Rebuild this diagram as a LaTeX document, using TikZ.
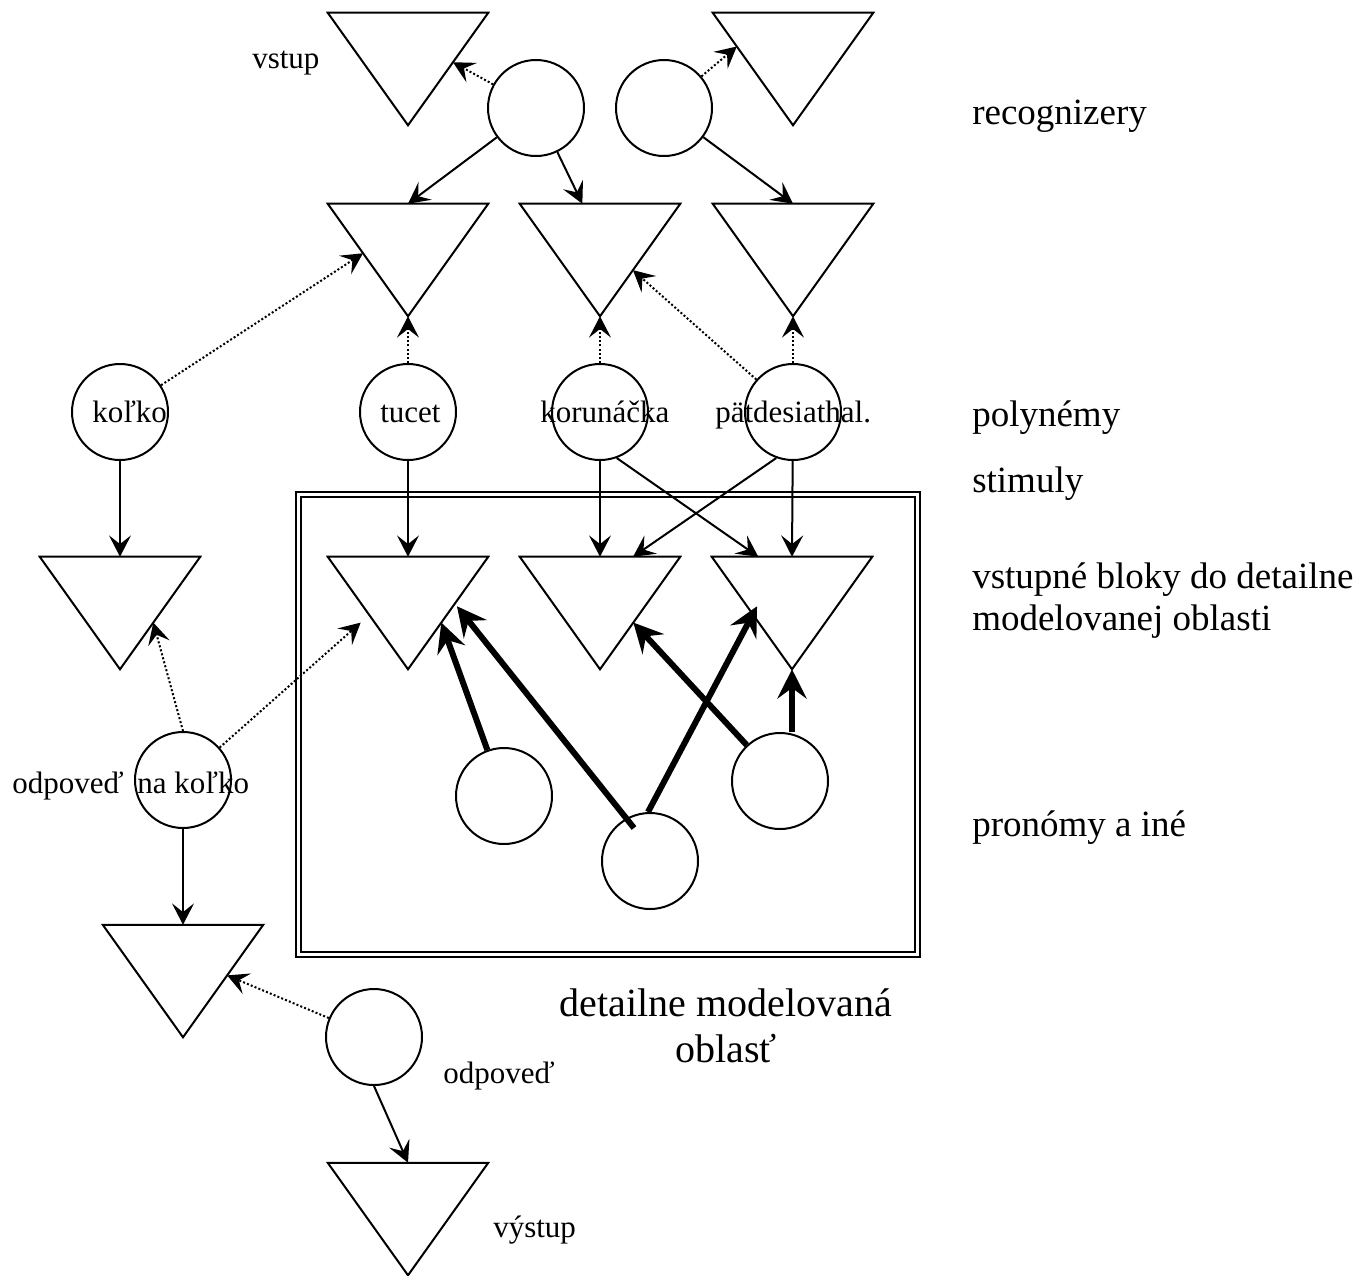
\documentclass[tikz,border=0pt]{standalone}
\usepackage{fontspec}
\setmainfont{Liberation Serif}
\usetikzlibrary{arrows.meta,calc}
\begin{document}
\begin{tikzpicture}[x=0.75pt,y=-0.75pt,
  circ/.style={circle, draw, line width=1.5pt, minimum size=72pt, inner sep=0pt},
  tri/.style={rectangle, minimum width=120pt, minimum height=84pt, inner sep=0pt},
  conn/.style={line width=1.5pt, -{Stealth[length=16pt,width=16.5pt,inset=6.5pt]}},
  dotconn/.style={conn, dash pattern=on 1.5pt off 1.6pt},
  thickarr/.style={line width=4.5pt, -{Stealth[length=22pt,width=22pt,inset=8pt]}},
  small/.style={font=\fontsize{23.25}{27}\selectfont, inner sep=0pt},
  big/.style={font=\fontsize{27.75}{31}\selectfont, inner sep=0pt},
  huge/.style={font=\fontsize{30}{34}\selectfont, inner sep=0pt}]
\useasboundingbox (0,0) rectangle (1362,1275);

% frame of the detailed region
\node[draw, line width=1.4pt, double=white, double distance=2.8pt, minimum width=464.25pt, minimum height=345pt, inner sep=0pt] (box) at (608,724.5) {};

% triangles (invisible boxes, drawn below)
\node[tri] (Tin) at (408,69) {};
\node[tri] (Trr) at (793,69) {};
\node[tri] (T1) at (408,260) {};
\node[tri] (T2) at (600,260) {};
\node[tri] (T3) at (793,260) {};
\node[tri] (Tl) at (120,613) {};
\node[tri] (T4) at (408,613) {};
\node[tri] (T5) at (600,613) {};
\node[tri] (T6) at (792,613) {};
\node[tri] (Tb) at (183,981) {};
\node[tri] (Tout) at (408,1219) {};
\foreach \t in {Tin,Trr,T1,T2,T3,Tl,T4,T5,T6,Tb,Tout}
  \draw[line width=1.5pt] (\t.north west) -- (\t.north east) -- (\t.south) -- cycle;

% circles
\node[circ] (C1) at (536,108) {};
\node[circ] (C2) at (664,108) {};
\node[circ] (kolko) at (120,412) {};
\node[circ] (tucet) at (408,412) {};
\node[circ] (koruna) at (600,412) {};
\node[circ] (patd) at (793,412) {};
\node[circ] (onk) at (183,780) {};
\node[circ] (odp) at (374,1037) {};
\node[circ] (P1) at (504,796) {};
\node[circ] (P2) at (650,861) {};
\node[circ] (P3) at (780,781) {};

% labels in circles
\node[small, anchor=base west] (kolkoL) at (92,422) {koľko};
\node[small, anchor=base west] (tucetL) at (380,422) {tucet};
\node[small, anchor=base west] (korunaL) at (540,422) {korunáčka};
\node[small, anchor=base west] (patdL) at (715,422) {pätdesiathal.};

% other labels
\node[small, anchor=base west] (vstupL) at (252,68) {vstup};
\node[small, anchor=base west] (onkL) at (12,793) {odpoveď\hspace{0.45em}na koľko};
\node[small, anchor=base west] (odpL) at (443,1083) {odpoveď};
\node[small, anchor=base west] (vystupL) at (493,1237) {výstup};

\node[big, anchor=base west] (recL) at (972,124) {recognizery};
\node[big, anchor=base west] (polyL) at (972,426) {polynémy};
\node[big, anchor=base west] (stimL) at (972,492) {stimuly};
\node[big, anchor=base west, align=left] (vstbL) at (972,630) {vstupné bloky do detailne\\modelovanej oblasti};
\node[big, anchor=base west] (pronL) at (972,836) {pronómy a iné};
\node[huge, anchor=base, align=center] (detL) at (726,1062) {detailne modelovaná\\oblasť};

% recognizer connections
\draw[dotconn] (C1) -- ($(Tin.north east)!0.44!(Tin.south)$);
\draw[dotconn] (C2) -- ($(Trr.north west)!0.3!(Trr.south)$);
\draw[conn] (C1) -- (T1.north);
\draw[conn] (C1) -- ($(T2.north west)!0.39!(T2.north east)$);
\draw[conn] (C2) -- (T3.north);

% polyneme dotted connections
\draw[dotconn] (kolko) -- ($(T1.north west)!0.44!(T1.south)$);
\draw[dotconn] (tucet) -- (T1.south);
\draw[dotconn] (koruna) -- (T2.south);
\draw[dotconn] (patd) -- (T3.south);
\draw[dotconn] (patd) -- ($(T2.north east)!0.59!(T2.south)$);

% stimuli
\draw[conn] (kolko) -- (Tl.north);
\draw[conn] (tucet) -- (T4.north);
\draw[conn] (koruna) -- (T5.north);
\draw[conn] (koruna.-70) -- ($(T6.north west)!0.29!(T6.north east)$);
\draw[conn] (patd.-110) -- ($(T5.north west)!0.706!(T5.north east)$);
\draw[conn] (patd) -- (T6.north);

% answer part
\draw[dotconn] (onk.north) -- ($(Tl.north east)!0.585!(Tl.south)$);
\draw[dotconn] (onk) -- ($(T4.north west)!0.585!(T4.south)+(-14,0)$);
\draw[conn] (onk) -- (Tb.north);
\draw[dotconn] (odp) -- ($(Tb.north east)!0.45!(Tb.south)$);
\draw[conn] (odp.south) -- (Tout.north);

% pronomes (thick)
\draw[thickarr] (P1) -- ($(T4.north east)!0.585!(T4.south)$);
\draw[thickarr] ($(P2)+(-16,-33)$) -- ($(T4.north east)!0.44!(T4.south)+(4,0)$);
\draw[thickarr] ($(P2.north)+(-2,0)$) -- ($(T6.north west)!0.44!(T6.south)+(10,0)$);
\draw[thickarr] (P3) -- ($(T5.north east)!0.585!(T5.south)$);
\draw[thickarr] (P3.north -| T6.south) -- (T6.south);
\end{tikzpicture}
\end{document}
